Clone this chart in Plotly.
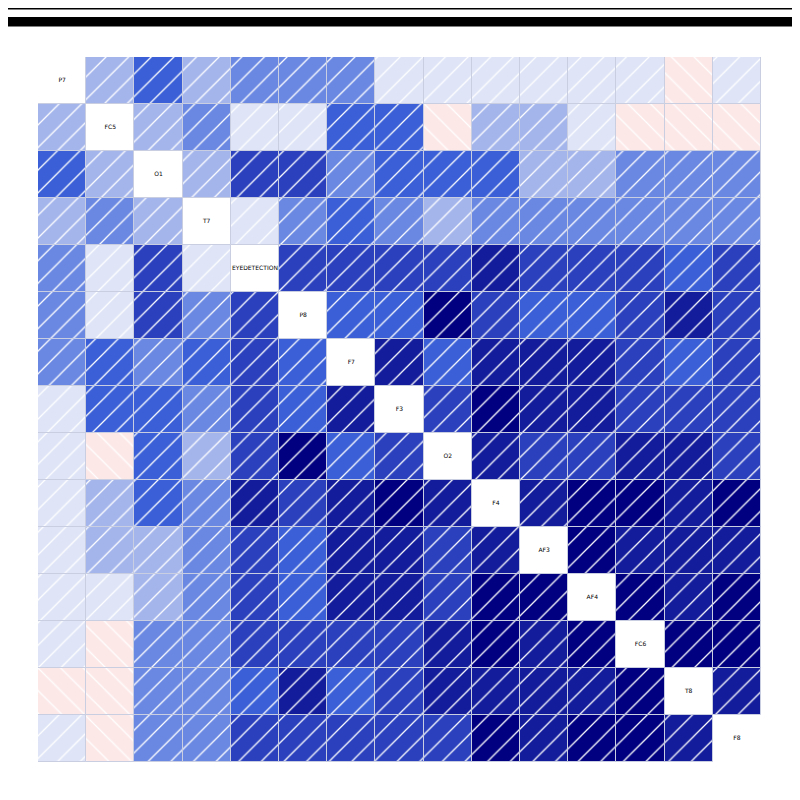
import plotly.graph_objects as go

labels = ["P7", "FC5", "O1", "T7", "EYEDETECTION", "P8", "F7", "F3", "O2",
          "F4", "AF3", "AF4", "FC6", "T8", "F8"]

# estimated correlation values (None on the diagonal)
N = None
corr = [
    [N, .22, .52, .22, .38, .38, .38, .08, .08, .08, .08, .08, .08, -.06, .08],
    [.22, N, .22, .38, .08, .08, .52, .52, -.06, .22, .22, .08, -.06, -.06, -.06],
    [.52, .22, N, .22, .66, .66, .38, .52, .52, .52, .22, .22, .38, .38, .38],
    [.22, .38, .22, N, .08, .38, .52, .38, .22, .38, .38, .38, .38, .38, .38],
    [.38, .08, .66, .08, N, .66, .66, .66, .66, .80, .66, .66, .66, .52, .66],
    [.38, .08, .66, .38, .66, N, .52, .52, .93, .66, .52, .52, .66, .80, .66],
    [.38, .52, .38, .52, .66, .52, N, .80, .52, .80, .80, .80, .66, .52, .66],
    [.08, .52, .52, .38, .66, .52, .80, N, .66, .93, .80, .80, .66, .66, .66],
    [.08, -.06, .52, .22, .66, .93, .52, .66, N, .80, .66, .66, .80, .80, .66],
    [.08, .22, .52, .38, .80, .66, .80, .93, .80, N, .80, .93, .93, .80, .93],
    [.08, .22, .22, .38, .66, .52, .80, .80, .66, .80, N, .93, .80, .80, .80],
    [.08, .08, .22, .38, .66, .52, .80, .80, .66, .93, .93, N, .93, .80, .93],
    [.08, -.06, .38, .38, .66, .66, .66, .66, .80, .93, .80, .93, N, .93, .93],
    [-.06, -.06, .38, .38, .52, .80, .52, .66, .80, .80, .80, .80, .93, N, .80],
    [.08, -.06, .38, .38, .66, .66, .66, .66, .66, .93, .80, .93, .93, .80, N],
]

bin_edges = [0.0, 0.15, 0.30, 0.45, 0.60, 0.72, 0.86]
bin_colors = ["#dfe5f7", "#a4b5ec", "#6a88e2", "#3a5fd6", "#2a40bd", "#131c9b", "#000080"]
neg_color = "#fde8e8"


def cell_level(v):
    if v < 0:
        return -1
    k = 0
    for idx, e in enumerate(bin_edges):
        if v >= e:
            k = idx
    return k


groups = {}
for i, row in enumerate(corr):
    for j, v in enumerate(row):
        if v is None:
            continue
        g = groups.setdefault(cell_level(v), {"x": [], "base": []})
        g["x"].append(j)
        g["base"].append(i - 0.5)

fig = go.Figure()
for lev in sorted(groups):
    g = groups[lev]
    col = neg_color if lev < 0 else bin_colors[lev]
    shp = "\\" if lev < 0 else "/"
    fig.add_trace(go.Bar(
        x=g["x"], y=[1] * len(g["x"]), base=g["base"], width=1,
        marker=dict(
            color=col,
            line=dict(color="#c9cfe0", width=1),
            pattern=dict(shape=shp, fgcolor="white", bgcolor=col, fgopacity=1,
                         size=16, solidity=0.08, fillmode="replace"),
        ),
        hoverinfo="skip", showlegend=False,
    ))

fig.add_trace(go.Scatter(
    x=list(range(len(labels))), y=list(range(len(labels))),
    mode="text", text=labels,
    textfont=dict(size=6, color="black", family="DejaVu Sans, Verdana"),
    hoverinfo="skip", showlegend=False,
))

# dark bands at the very top of the page
for y0, y1 in [(1.0674, 1.09), (1.0433, 1.0567)]:
    fig.add_shape(type="rect", xref="paper", yref="paper",
                  x0=-0.06, x1=1.08, y0=y0, y1=y1,
                  fillcolor="black", line=dict(width=0), layer="above")

fig.update_layout(
    width=800, height=800,
    margin=dict(l=30, r=47, t=49, b=46),
    plot_bgcolor="white", paper_bgcolor="white",
    barmode="overlay", bargap=0,
    xaxis=dict(range=[-0.5, 14.5], showgrid=False, zeroline=False,
               showticklabels=False, ticks=""),
    yaxis=dict(range=[14.5, -0.5], showgrid=False, zeroline=False,
               showticklabels=False, ticks=""),
)

fig.write_html("out.html")
